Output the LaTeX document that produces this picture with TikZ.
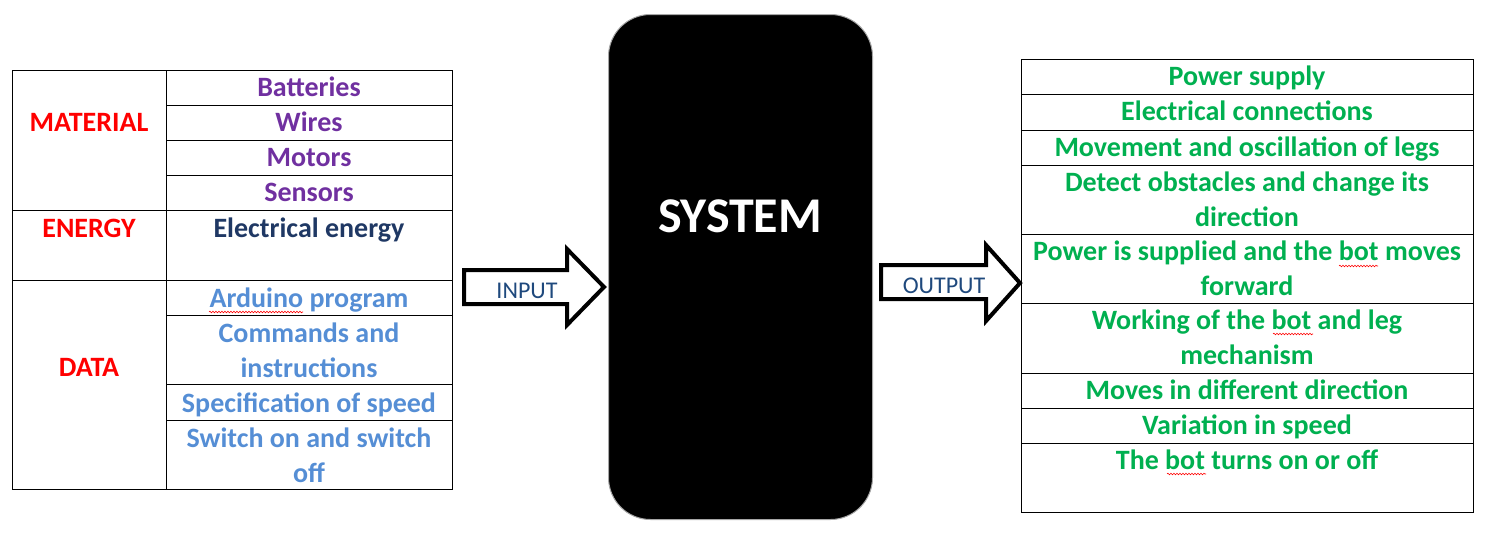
\documentclass[tikz,border=0pt]{standalone}
\usepackage{fontspec}
\setmainfont{Carlito}
\usetikzlibrary{positioning, calc, decorations.pathmorphing}
\definecolor{catred}{HTML}{FF0000}
\definecolor{matpurple}{HTML}{7030A0}
\definecolor{enblue}{HTML}{1F3864}
\definecolor{datablue}{HTML}{558ED5}
\definecolor{outgreen}{HTML}{00B050}
\definecolor{arrowblue}{HTML}{1F497D}

\begin{document}
\begin{tikzpicture}[x=1pt, y=-1pt, line width=1pt,
  txt/.style={anchor=base, inner sep=0pt, align=center,
    font=\bfseries\fontsize{28}{35}\selectfont},
  cat/.style={txt, text=catred},
  mat/.style={txt, text=matpurple},
  dat/.style={txt, text=datablue},
  outp/.style={txt, text=outgreen},
  arrowline/.style={line width=4pt, miter limit=10, fill=white},
  arrowlbl/.style={anchor=base, inner sep=0pt, text=arrowblue,
    font=\fontsize{24}{29}\selectfont},
  spell/.style={draw=red, line width=0.6pt,
    decorate, decoration={snake, amplitude=0.8pt, segment length=3pt}}]
\useasboundingbox (0,0) rectangle (1503,549);

% input table
\draw (12,70) rectangle (452,489);
\draw (166,70) -- (166,489);
\foreach \y in {105,140,175,315,384,420} \draw (166,\y) -- (452,\y);
\foreach \y in {210,280} \draw (12,\y) -- (452,\y);

\node[cat] (material) at (89,131) {MATERIAL};
\node[cat] (energy) at (89,237) {ENERGY};
\node[cat] (data) at (89,376) {DATA};

\node[mat] (batteries) at (309,96) {Batteries};
\node[mat] (wires) at (309,131) {Wires};
\node[mat] (motors) at (309,166) {Motors};
\node[mat] (sensors) at (309,201) {Sensors};
\node[txt, text=enblue] (elenergy) at (309,237) {Electrical energy};
\node[dat] (arduino) at (309,307) {Arduino program};
\node[dat] (commands) at (309,377) {Commands and\\instructions};
\node[dat] (speed) at (309,412) {Specification of speed};
\node[dat] (switch) at (309,482) {Switch on and switch\\off};

% system block
\node[draw=gray!70, fill=black, rounded corners=42pt, inner sep=0pt,
  minimum width=264pt, minimum height=505pt] (system) at (740.5,267) {};
\node[anchor=base, inner sep=0pt, text=white,
  font=\bfseries\fontsize{50}{60}\selectfont] (systemlbl) at (740,232) {SYSTEM};

% arrows
\draw[arrowline] (464,270) -- (567,270) -- (567,249) -- (604,287)
  -- (567,325) -- (567,304) -- (464,304) -- cycle;
\node[arrowlbl] (input) at (527,298) {INPUT};
\draw[arrowline] (881,265) -- (986,265) -- (986,245) -- (1020,283)
  -- (986,321) -- (986,299) -- (881,299) -- cycle;
\node[arrowlbl] (output) at (944,293) {OUTPUT};

% output table
\draw (1021,59) rectangle (1473,512);
\foreach \y in {94,130,165,234,303,373,408,443} \draw (1021,\y) -- (1473,\y);

\node[outp] (power) at (1247,85) {Power supply};
\node[outp] (connections) at (1247,120) {Electrical connections};
\node[outp] (legs) at (1247,156) {Movement and oscillation of legs};
\node[outp] (obstacles) at (1247,226) {Detect obstacles and change its\\direction};
\node[outp] (forward) at (1247,295) {Power is supplied and the bot moves\\forward};
\node[outp] (working) at (1247,364) {Working of the bot and leg\\mechanism};
\node[outp] (moves) at (1247,399) {Moves in different direction};
\node[outp] (variation) at (1247,434) {Variation in speed};
\node[outp] (turns) at (1247,469) {The bot turns on or off};

% spelling marks
\draw[spell] (209,312) -- (303,312);
\draw[spell] (1339,266) -- (1378,266);
\draw[spell] (1273,334) -- (1313,334);
\draw[spell] (1167,474) -- (1206,474);
\end{tikzpicture}
\end{document}
